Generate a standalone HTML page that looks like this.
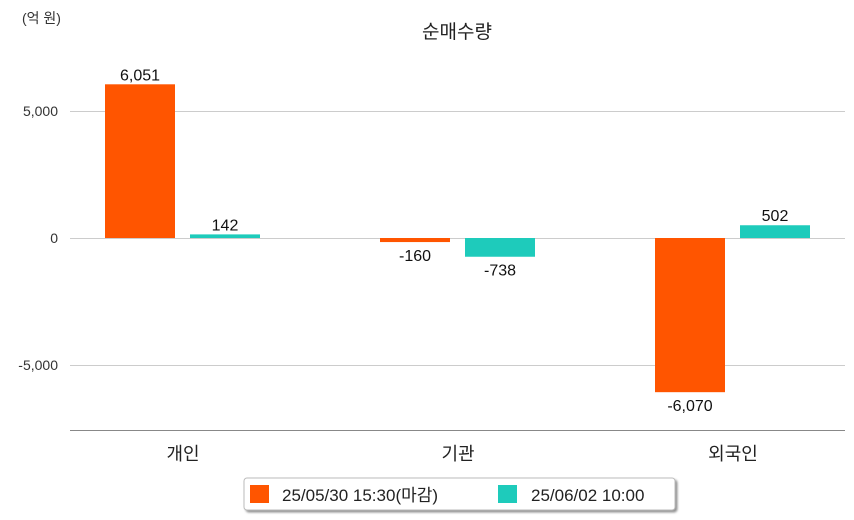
<!DOCTYPE html>
<html><head><meta charset="utf-8"><style>
body{margin:0;background:#fff;}
svg{display:block;font-family:"Liberation Sans","Noto Sans CJK KR",sans-serif;}
</style></head><body>
<svg id="c" width="854" height="520" xmlns="http://www.w3.org/2000/svg">
<defs><filter id="sh" x="-5%" y="-20%" width="110%" height="160%"><feDropShadow dx="2" dy="2" stdDeviation="1" flood-color="#777" flood-opacity="0.8"/></filter></defs>
<text x="22" y="23" font-size="14" fill="#333">(억 원)</text>
<text x="457" y="38" font-size="19" text-anchor="middle" fill="#222">순매수량</text>
<g id="grid"></g><g id="bars"></g>
<line x1="70" x2="845" y1="430.5" y2="430.5" stroke="#888"/>
<g>
<rect x="244" y="478" width="431" height="32" rx="3" fill="#fff" stroke="#bbb" filter="url(#sh)"/>
<rect x="250" y="485" width="19" height="18" fill="#ff5500"/>
<text x="282" y="501" font-size="17" fill="#222">25/05/30 15:30(마감)</text>
<rect x="498" y="485" width="19" height="18" fill="#1ecbbb"/>
<text x="531" y="501" font-size="17" fill="#222">25/06/02 10:00</text>
</g>
</svg>
<script>
const categories=["개인","기관","외국인"];
const series1=[6051,-160,-6070];
const series2=[142,-738,502];
const ticks=[5000,0,-5000];
const tickLabels=["5,000","0","-5,000"];
const NS="http://www.w3.org/2000/svg";
const y=v=>238-v*127/5000;
const catX=i=>70+275*i;
function mk(tag,attrs,parent,txt){const e=document.createElementNS(NS,tag);for(const k in attrs)e.setAttribute(k,attrs[k]);if(txt!=null)e.textContent=txt;parent.appendChild(e);return e;}
const g=document.getElementById('grid'),b=document.getElementById('bars');
ticks.forEach((t,i)=>{
 const l=mk('line',{x1:70,x2:845,y1:y(t)+0.5,y2:y(t)+0.5,stroke:'#ccc'},g);
 
 
 const tx=mk('text',{x:58,y:y(t)+5,'font-size':14,'text-anchor':'end',fill:'#333'},g,tickLabels[i]);
 
 
});
const fmt=v=>v.toLocaleString('en-US');
categories.forEach((c,i)=>{
 const cx=catX(i);
 [[series1,'#ff5500',35,'bar-0530'],[series2,'#1ecbbb',120,'bar-0602']].forEach(([s,col,off,nm])=>{
  const v=s[i],y0=y(0),y1=y(v);
  const r=mk('rect',{x:cx+off,y:Math.min(y0,y1),width:70,height:Math.max(1,Math.abs(y1-y0)),fill:col},b);
  
  
  const ly=v>=0?y1-4:y1+19;
  const t=mk('text',{x:cx+off+35,y:ly,'font-size':16,'text-anchor':'middle',fill:'#111'},b,fmt(v));
  
  
 });
 const ct=mk('text',{x:cx+113,y:460,'font-size':18,'text-anchor':'middle',fill:'#222'},b,c);
 
 
});
</script>
</body></html>
